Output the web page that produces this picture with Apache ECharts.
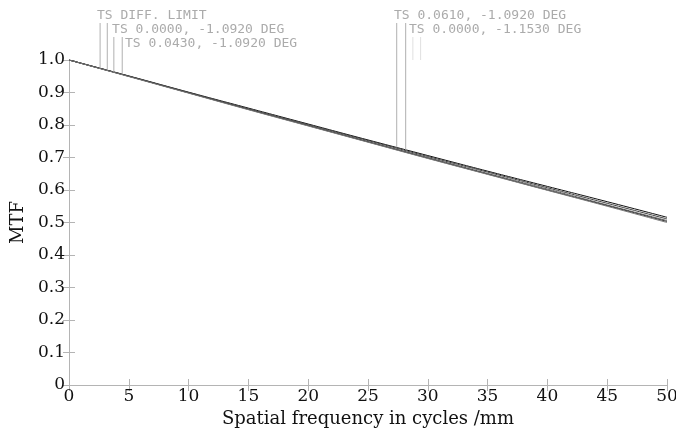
<!DOCTYPE html>
<html>
<head>
<meta charset="utf-8">
<script src="https://cdn.jsdelivr.net/npm/echarts@6/dist/echarts.min.js"></script>
<style>html,body{margin:0;padding:0;background:#fff}#c{width:676px;height:428px}</style>
</head>
<body>
<div id="c"></div>
<script>
// ---- data ----
const freq = [0, 5, 10, 15, 20, 25, 30, 35, 40, 45, 50];
const mtfDiffLimit = [1.000, 0.951, 0.901, 0.852, 0.803, 0.754, 0.706, 0.658, 0.611, 0.564, 0.516];
const mtf0000_1092 = [1.000, 0.950, 0.900, 0.850, 0.801, 0.752, 0.703, 0.655, 0.607, 0.559, 0.511];
const mtf0430_1092 = [1.000, 0.950, 0.899, 0.849, 0.799, 0.749, 0.700, 0.651, 0.603, 0.554, 0.506];
const mtf0610_1092 = [1.000, 0.950, 0.899, 0.848, 0.798, 0.748, 0.698, 0.649, 0.600, 0.552, 0.503];
const mtf0000_1153 = [1.000, 0.949, 0.898, 0.847, 0.797, 0.747, 0.697, 0.648, 0.599, 0.550, 0.500];
const xTicks = [0, 5, 10, 15, 20, 25, 30, 35, 40, 45, 50];
const yTicks = [0, 0.1, 0.2, 0.3, 0.4, 0.5, 0.6, 0.7, 0.8, 0.9, 1.0];

// annotation labels (text, data-x where text starts, row)
const labelTexts = ['TS DIFF. LIMIT', 'TS 0.0000, -1.0920 DEG', 'TS 0.0430, -1.0920 DEG', 'TS 0.0610, -1.0920 DEG', 'TS 0.0000, -1.1530 DEG'];
const labelX = [2.34, 3.6, 4.68, 27.17, 28.43];
const labelRow = [0, 1, 2, 0, 1];
// leader lines (data-x, row below which it starts, 1 = runs to curve, 0 = runs to top axis)
const leaderX = [2.6, 3.2, 3.75, 4.45, 27.4, 28.15, 28.75, 29.4];
const leaderRow = [0, 0, 1, 1, 0, 0, 1, 1];
const leaderToCurve = [1, 1, 1, 1, 1, 1, 0, 0];

const seriesNames = ['TS DIFF. LIMIT', 'TS 0.0000, -1.0920 DEG', 'TS 0.0430, -1.0920 DEG', 'TS 0.0610, -1.0920 DEG', 'TS 0.0000, -1.1530 DEG'];
const seriesData = [mtfDiffLimit, mtf0000_1092, mtf0430_1092, mtf0610_1092, mtf0000_1153];
const colors = ['#111111', '#444444', '#666666', '#333333', '#777777'];

function curveAt(x) {
  for (let i = 0; i < freq.length - 1; i++) {
    if (x >= freq[i] && x <= freq[i + 1]) {
      const t = (x - freq[i]) / (freq[i + 1] - freq[i]);
      return mtfDiffLimit[i] + t * (mtfDiffLimit[i + 1] - mtfDiffLimit[i]);
    }
  }
  return mtfDiffLimit[mtfDiffLimit.length - 1];
}

const serif = 'DejaVu Serif';
const axisGray = '#b4b4b4';
const rowY = [-44, -30, -16]; // text center offset from top of plot (px)
const rowBottom = [-37, -23]; // leader start offsets

const chart = echarts.init(document.getElementById('c'), null, { renderer: 'canvas' });

const lineSeries = seriesData.map((d, i) => ({
  name: seriesNames[i],
  type: 'line',
  data: freq.map((f, j) => [f, d[j]]),
  smooth: true,
  symbol: 'none',
  lineStyle: { color: colors[i], width: 1 },
  z: 3 + i
}));

const annotSeries = {
  type: 'custom',
  silent: true,
  clip: false,
  data: [0],
  z: 10,
  renderItem: function (params, api) {
    const children = [];
    const top = api.coord([0, 1])[1];
    labelTexts.forEach((t, i) => {
      const p = api.coord([labelX[i], 1]);
      children.push({
        type: 'text',
        style: {
          text: t, x: p[0], y: top + rowY[labelRow[i]],
          fill: '#ababab', font: '13px "DejaVu Sans Mono"',
          textAlign: 'left', textVerticalAlign: 'middle'
        }
      });
    });
    leaderX.forEach((x, i) => {
      const p = api.coord([x, leaderToCurve[i] ? curveAt(x) : 1]);
      children.push({
        type: 'line',
        shape: { x1: p[0], y1: top + rowBottom[leaderRow[i]], x2: p[0], y2: p[1] },
        style: { stroke: leaderToCurve[i] ? '#b0b0b0' : '#e0e0e0', lineWidth: 1 }
      });
    });
    return { type: 'group', children: children };
  }
};

const baseX = {
  type: 'value', min: 0, max: 50, interval: 5,
  splitLine: { show: false },
  axisLine: { show: true, lineStyle: { color: axisGray, width: 1 } },
  axisTick: { show: true, inside: true, length: 6, lineStyle: { color: axisGray } }
};
const baseY = {
  type: 'value', min: 0, max: 1, interval: 0.1,
  splitLine: { show: false },
  axisLine: { show: true, lineStyle: { color: axisGray, width: 1 } },
  axisTick: { show: true, inside: true, length: 6, lineStyle: { color: axisGray } }
};

chart.setOption({
  animation: false,
  backgroundColor: '#fff',
  grid: { left: 69, right: 9, top: 60, bottom: 43, containLabel: false, outerBoundsMode: 'none' },
  xAxis: [
    Object.assign({}, baseX, {
      position: 'bottom',
      name: 'Spatial frequency in cycles /mm',
      nameLocation: 'middle', nameGap: 23,
      nameTextStyle: { fontFamily: serif, fontSize: 18, color: '#111' },
      axisLabel: {
        fontFamily: serif, fontSize: 17, color: '#111', margin: 3,
        formatter: v => (xTicks.indexOf(v) >= 0 ? String(v) : '')
      }
    }),
    Object.assign({}, baseX, { position: 'top', axisLabel: { show: false } })
  ],
  yAxis: [
    Object.assign({}, baseY, {
      position: 'left',
      name: 'MTF',
      nameLocation: 'middle', nameGap: 42, nameRotate: 90,
      nameTextStyle: { fontFamily: serif, fontSize: 18, color: '#111' },
      axisLabel: {
        fontFamily: serif, fontSize: 17, color: '#111', margin: 4,
        formatter: v => { const r = Math.round(v * 10) / 10; return r === 0 ? '0' : r.toFixed(1); }
      }
    }),
    Object.assign({}, baseY, { position: 'right', axisLabel: { show: false } })
  ],
  series: lineSeries.concat([annotSeries])
});
</script>
</body>
</html>
